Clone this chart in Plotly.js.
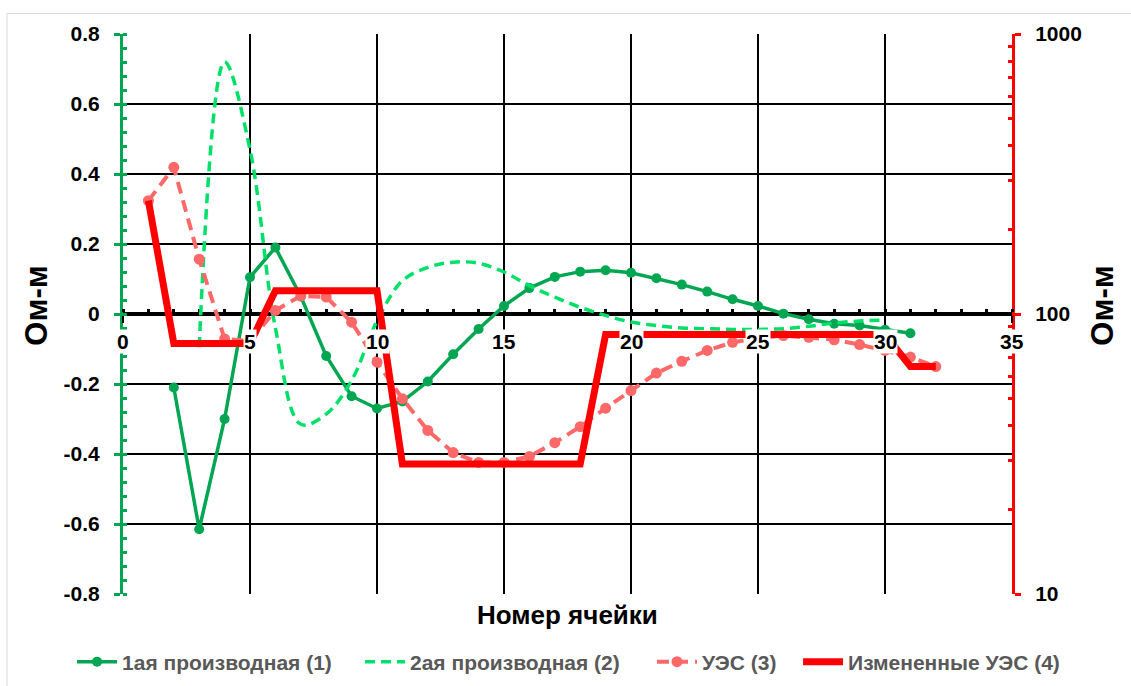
<!DOCTYPE html>
<html>
<head>
<meta charset="utf-8">
<script src="https://cdn.plot.ly/plotly-3.0.1.min.js"></script>
<style>
  html, body { margin: 0; padding: 0; background: #ffffff; }
  #chart { width: 1131px; height: 686px; }
</style>
</head>
<body>
<div id="chart"></div>
<script>
// Номера ячеек и значения рядов
const cellsD1 = [2, 3, 4, 5, 6, 7, 8, 9, 10, 11, 12, 13, 14, 15, 16, 17, 18, 19, 20, 21, 22, 23, 24, 25, 26, 27, 28, 29, 30, 31];
const deriv1 = [-0.21, -0.615, -0.30, 0.105, 0.19, 0.05, -0.12, -0.235, -0.27, -0.25, -0.193, -0.115, -0.043, 0.023,
  0.074, 0.106, 0.121, 0.125, 0.118, 0.102, 0.084, 0.064, 0.042, 0.023, 0.001, -0.015, -0.028, -0.033, -0.045, -0.055];

const cellsD2 = [3, 4, 5, 6, 7, 8, 9, 10, 11, 12, 13, 14, 15, 16, 17, 18, 19, 20, 21, 22, 23, 24, 25, 26, 27, 28, 29, 30];
const deriv2 = [-0.095, 0.72, 0.47, -0.04, -0.315, -0.286, -0.19, -0.02, 0.095, 0.133, 0.148, 0.145, 0.12, 0.081,
  0.048, 0.019, -0.004, -0.023, -0.033, -0.04, -0.042, -0.044, -0.044, -0.042, -0.035, -0.026, -0.02, -0.017];

const cellsRes = [1, 2, 3, 4, 5, 6, 7, 8, 9, 10, 11, 12, 13, 14, 15, 16, 17, 18, 19, 20, 21, 22, 23, 24, 25, 26, 27, 28, 29, 30, 31, 32];
const resistivity = [254, 334, 157, 81.5, 80, 103, 116, 115, 93.5, 67.3, 49.8, 38.4, 32, 29.5, 29.5, 31, 34.7, 39.6,
  46.1, 53.3, 61.5, 67.8, 74.1, 79.2, 82, 83.8, 82.6, 80.9, 77.8, 74.1, 70.2, 64.9];

const cellsMod = [1, 2, 3, 4, 5, 6, 7, 8, 9, 10, 11, 12, 13, 14, 15, 16, 17, 18, 19, 20, 21, 22, 23, 24, 25, 26, 27, 28, 29, 30, 31, 32];
const resistivityMod = [254, 78.5, 78.5, 78.5, 78.5, 121, 121, 121, 121, 121, 29.1, 29.1, 29.1, 29.1, 29.1, 29.1, 29.1, 29.1,
  84.5, 84.5, 84.5, 84.5, 84.5, 84.5, 84.5, 84.5, 84.5, 84.5, 84.5, 84.5, 65, 65];

// Подписи рядов и осей
const seriesNames = ['1ая производная (1)', '2ая производная (2)', 'УЭС (3)', 'Измененные УЭС (4)'];
const xTickVals = [0, 5, 10, 15, 20, 25, 30, 35];
const xTickText = ['0', '5', '10', '15', '20', '25', '30', '35'];
const yTickVals = [-0.8, -0.6, -0.4, -0.2, 0, 0.2, 0.4, 0.6, 0.8];
const yTickText = ['-0.8', '-0.6', '-0.4', '-0.2', '0', '0.2', '0.4', '0.6', '0.8'];
const y2TickVals = [10, 100, 1000];
const y2TickText = ['10', '100', '1000'];
const xTitle = 'Номер ячейки';
const yTitle = 'Ом-м';

const FONT = 'Liberation Sans, Arial, sans-serif';
const GREEN = '#00A651';
const LIGHT_GREEN = '#00E068';
const SALMON = '#FF6868';
const RED = '#FF0000';

// промежуточные деления логарифмической оси
const y2Minor = [];
for (let d = 10; d < 1000; d *= 10) {
  for (let k = 2; k <= 9; k++) y2Minor.push(k * d);
}

const traces = [
  {
    x: cellsD1, y: deriv1, name: seriesNames[0], type: 'scatter', mode: 'lines+markers',
    xaxis: 'x', yaxis: 'y', legend: 'legend',
    line: { color: GREEN, width: 3.5 },
    marker: { color: GREEN, size: 10 }
  },
  {
    x: cellsD2, y: deriv2, name: seriesNames[1], type: 'scatter', mode: 'lines',
    xaxis: 'x', yaxis: 'y', legend: 'legend2',
    line: { color: LIGHT_GREEN, width: 3.5, dash: '10px,6px', shape: 'spline', smoothing: 1 }
  },
  {
    x: cellsRes, y: resistivity, name: seriesNames[2], type: 'scatter', mode: 'lines+markers',
    xaxis: 'x', yaxis: 'y2', legend: 'legend3',
    line: { color: SALMON, width: 4, dash: '12px,7px' },
    marker: { color: SALMON, size: 11 }
  },
  {
    x: cellsMod, y: resistivityMod, name: seriesNames[3], type: 'scatter', mode: 'lines',
    xaxis: 'x', yaxis: 'y2', legend: 'legend4',
    line: { color: RED, width: 7 }
  }
];

// подписи оси X на белой подложке, поверх линий
const annotations = xTickVals.map((v, i) => ({
  xref: 'x', yref: 'y', x: v, y: 0, yshift: -27,
  xanchor: 'center', yanchor: 'middle',
  text: xTickText[i], showarrow: false,
  bgcolor: '#ffffff', borderpad: 0,
  font: { family: FONT, size: 21, color: '#000000', weight: 700 }
}));

annotations.push(
  {
    xref: 'paper', yref: 'paper', x: 0.5, y: 0, yshift: -21,
    xanchor: 'center', yanchor: 'middle', showarrow: false,
    text: xTitle,
    font: { family: FONT, size: 26, color: '#000000', weight: 700 }
  },
  {
    xref: 'paper', yref: 'paper', x: -0.0967, y: 0.515,
    xanchor: 'center', yanchor: 'middle', showarrow: false, textangle: -90,
    text: yTitle,
    font: { family: FONT, size: 31, color: '#000000', weight: 700 }
  },
  {
    xref: 'paper', yref: 'paper', x: 1.1024, y: 0.515,
    xanchor: 'center', yanchor: 'middle', showarrow: false, textangle: -90,
    text: yTitle,
    font: { family: FONT, size: 31, color: '#000000', weight: 700 }
  }
);

// одна строка подписей рядов под диаграммой
function legendAt(xFrac) {
  return {
    orientation: 'h', xref: 'container', yref: 'container',
    x: xFrac, xanchor: 'left', y: 0.035, yanchor: 'middle',
    itemwidth: 40, bgcolor: 'rgba(0,0,0,0)', borderwidth: 0,
    font: { family: FONT, size: 21, color: '#595959', weight: 700 }
  };
}

const layout = {
  width: 1131, height: 686,
  margin: { l: 123, r: 119, t: 34, b: 92, pad: 0, autoexpand: false },
  paper_bgcolor: '#ffffff', plot_bgcolor: '#ffffff',
  font: { family: FONT, color: '#000000' },
  showlegend: true,
  legend: legendAt(0.0637),
  legend2: legendAt(0.3183),
  legend3: legendAt(0.5765),
  legend4: legendAt(0.7056),
  xaxis: {
    range: [0, 35], anchor: 'free', position: 0.5,
    tickmode: 'array', tickvals: xTickVals, ticktext: xTickText, showticklabels: false,
    ticks: 'outside', ticklen: 7, tickwidth: 2, tickcolor: '#000000',
    minor: { tickmode: 'linear', tick0: 0, dtick: 1, ticks: 'inside', ticklen: 3, tickwidth: 3, tickcolor: '#000000', showgrid: false },
    showline: true, linecolor: '#000000', linewidth: 4,
    showgrid: true, gridcolor: '#000000', gridwidth: 2,
    zeroline: false, layer: 'below traces', fixedrange: true
  },
  yaxis: {
    range: [-0.8, 0.8], anchor: 'x', side: 'left',
    tickmode: 'array', tickvals: yTickVals, ticktext: yTickText,
    tickfont: { family: FONT, size: 21, color: '#000000', weight: 700 },
    ticks: 'outside', ticklen: 6, tickwidth: 3, tickcolor: GREEN, ticklabelstandoff: 10,
    minor: { tickmode: 'linear', tick0: -0.8, dtick: 0.04, ticks: 'inside', ticklen: 4, tickwidth: 3, tickcolor: GREEN, showgrid: false },
    showline: true, linecolor: GREEN, linewidth: 3,
    showgrid: true, gridcolor: '#000000', gridwidth: 2,
    zeroline: false, layer: 'below traces', fixedrange: true
  },
  yaxis2: {
    type: 'log', range: [1, 3], overlaying: 'y', anchor: 'x', side: 'right',
    tickmode: 'array', tickvals: y2TickVals, ticktext: y2TickText,
    tickfont: { family: FONT, size: 21, color: '#000000', weight: 700 },
    ticks: 'outside', ticklen: 6, tickwidth: 3, tickcolor: RED, ticklabelstandoff: 10,
    minor: { tickmode: 'array', tickvals: y2Minor, ticks: 'inside', ticklen: 4, tickwidth: 3, tickcolor: RED, showgrid: false },
    showline: true, linecolor: RED, linewidth: 3,
    showgrid: false, zeroline: false, layer: 'below traces', fixedrange: true
  },
  annotations: annotations,
  shapes: [
    // рамка области диаграммы
    {
      type: 'rect', xref: 'paper', yref: 'paper', layer: 'below',
      x0: -0.1305, x1: 1.2, y0: -0.3, y1: 1.0366,
      line: { color: '#D9D9D9', width: 1 }, fillcolor: 'rgba(0,0,0,0)'
    }
  ]
};

Plotly.newPlot('chart', traces, layout, { staticPlot: true, displayModeBar: false });
</script>
</body>
</html>
